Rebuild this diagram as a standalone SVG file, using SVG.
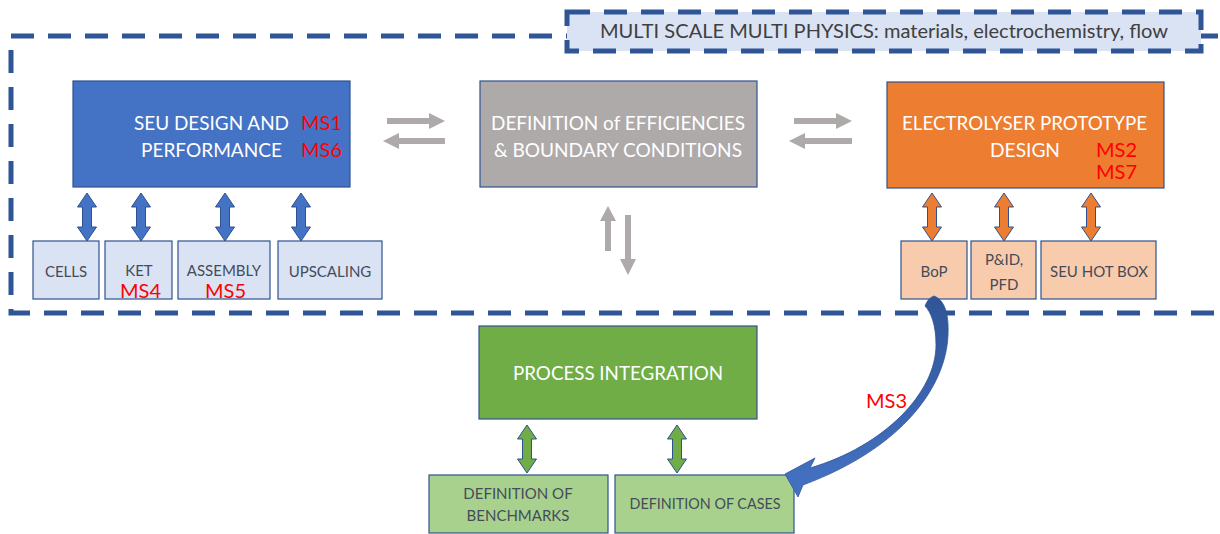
<svg xmlns="http://www.w3.org/2000/svg" width="1220" height="534" viewBox="0 0 1220 534">
<style>
text{font-family:Lato,"Liberation Sans",sans-serif}
.frame{fill:none;stroke:#2f5597;stroke-width:5;stroke-dasharray:23 14}
.lbl{fill:#dae3f3;stroke:#2f5597;stroke-width:5;stroke-dasharray:23 14}
.box{stroke:#2f528f;stroke-width:1.2}
.big{fill:#fff;font-size:19.5px}
.ms{fill:#ff0000;font-size:20px}
.sm{fill:#444c5a;font-size:15px;text-anchor:middle}
.ga{fill:#aeaaaa}
.da{stroke:#2f528f;stroke-width:1}
</style>
<defs>
<path id="dbl" d="M0,0 L9.5,14 L4.5,14 L4.5,34 L9.5,34 L0,48 L-9.5,34 L-4.5,34 L-4.5,14 L-9.5,14 Z"/>
<linearGradient id="arcg" x1="0" y1="0" x2="0" y2="1">
<stop offset="0" stop-color="#2f5597"/>
<stop offset="1" stop-color="#4472c4"/>
</linearGradient>
</defs>

<rect class="frame" x="11" y="36" width="1240" height="277"/>

<g id="label">
<rect class="lbl" x="567" y="12" width="634" height="39"/>
<text x="600" y="38" font-size="18.5" fill="#404040" textLength="568" lengthAdjust="spacingAndGlyphs">MULTI SCALE MULTI PHYSICS: materials, electrochemistry, flow</text>
</g>

<g id="seu">
<rect class="box" x="73" y="81" width="277" height="106" fill="#4472c4"/>
<text class="big" x="134" y="130" textLength="155" lengthAdjust="spacingAndGlyphs">SEU DESIGN AND</text>
<text class="big" x="141" y="157" textLength="141" lengthAdjust="spacingAndGlyphs">PERFORMANCE</text>
<text class="ms" x="301" y="130">MS1</text>
<text class="ms" x="301" y="157">MS6</text>
</g>

<g id="efficiencies">
<rect class="box" x="480" y="81" width="277" height="106" fill="#aeaaaa"/>
<text class="big" x="491" y="130" textLength="254" lengthAdjust="spacingAndGlyphs">DEFINITION of EFFICIENCIES</text>
<text class="big" x="494" y="157" textLength="248" lengthAdjust="spacingAndGlyphs">&amp; BOUNDARY CONDITIONS</text>
</g>

<g id="electrolyser">
<rect class="box" x="887" y="82" width="277" height="106" fill="#ed7d31"/>
<text class="big" x="902" y="130" textLength="245" lengthAdjust="spacingAndGlyphs">ELECTROLYSER PROTOTYPE</text>
<text class="big" x="990" y="157" textLength="70" lengthAdjust="spacingAndGlyphs">DESIGN</text>
<text class="ms" x="1096" y="157">MS2</text>
<text class="ms" x="1096" y="179">MS7</text>
</g>

<g id="cells">
<rect class="box" x="33" y="241" width="66" height="58" fill="#dae3f3"/>
<text class="sm" x="66" y="277">CELLS</text>
</g>
<g id="ket">
<rect class="box" x="105" y="241" width="67" height="58" fill="#dae3f3"/>
<text class="sm" x="139" y="276">KET</text>
<text class="ms" x="120" y="298" font-size="19">MS4</text>
</g>
<g id="assembly">
<rect class="box" x="178" y="241" width="92" height="58" fill="#dae3f3"/>
<text class="sm" x="224" y="276">ASSEMBLY</text>
<text class="ms" x="205" y="298" font-size="19">MS5</text>
</g>
<g id="upscaling">
<rect class="box" x="278" y="241" width="104" height="58" fill="#dae3f3"/>
<text class="sm" x="330" y="277">UPSCALING</text>
</g>

<g id="bop">
<rect class="box" x="901" y="241" width="66" height="58" fill="#f8cbad"/>
<text class="sm" x="934" y="277">BoP</text>
</g>
<g id="pid">
<rect class="box" x="971" y="241" width="65" height="58" fill="#f8cbad"/>
<text class="sm" x="1004" y="265">P&amp;ID,</text>
<text class="sm" x="1004" y="290">PFD</text>
</g>
<g id="hotbox">
<rect class="box" x="1041" y="241" width="115" height="58" fill="#f8cbad"/>
<text class="sm" x="1099" y="277">SEU HOT BOX</text>
</g>

<g id="process">
<rect class="box" x="479" y="326" width="278" height="93" fill="#70ad47"/>
<text class="big" x="513" y="380" font-size="21" textLength="210" lengthAdjust="spacingAndGlyphs">PROCESS INTEGRATION</text>
</g>
<g id="benchmarks">
<rect class="box" x="429" y="475" width="179" height="58" fill="#a9d18e"/>
<text class="sm" x="518" y="499">DEFINITION OF</text>
<text class="sm" x="518" y="521">BENCHMARKS</text>
</g>
<g id="cases">
<rect class="box" x="615" y="475" width="179" height="58" fill="#a9d18e"/>
<text class="sm" x="705" y="509" textLength="151" lengthAdjust="spacingAndGlyphs">DEFINITION OF CASES</text>
</g>

<g id="connectors">
<path class="ga" d="M387,118 L429,118 L429,113 L445,121 L429,129 L429,124 L387,124 Z"/>
<path class="ga" d="M445,138 L399,138 L399,133 L383,141 L399,149 L399,144 L445,144 Z"/>
<path class="ga" d="M794,118 L836,118 L836,113 L852,121 L836,129 L836,124 L794,124 Z"/>
<path class="ga" d="M852,138 L805,138 L805,133 L789,141 L805,149 L805,144 L852,144 Z"/>
<path class="ga" d="M605,251 L605,221 L600,221 L608,206 L616,221 L611,221 L611,251 Z"/>
<path class="ga" d="M625,215 L625,259 L620,259 L628,275 L636,259 L631,259 L631,215 Z"/>

<g fill="#4472c4" class="da">
<use href="#dbl" x="87" y="193"/>
<use href="#dbl" x="141" y="193"/>
<use href="#dbl" x="225" y="193"/>
<use href="#dbl" x="301" y="193"/>
</g>
<g fill="#ed7d31" class="da">
<use href="#dbl" x="932" y="193"/>
<use href="#dbl" x="1004" y="193"/>
<use href="#dbl" x="1091" y="193"/>
</g>
<g fill="#70ad47" class="da">
<use href="#dbl" x="527" y="425"/>
<use href="#dbl" x="677" y="425"/>
</g>

<path fill="url(#arcg)" stroke="#2f5597" stroke-width="0.8" d="M934,296 C945,300 949,315 948,335 C946,385 905,447 803,485 L798,497 L785,474 L815,458 L810,468 C885,446 936,392 936,345 C936,325 931,312 925,306 Q928,298 934,296 Z"/>
<text class="ms" x="866" y="408">MS3</text>
</g>
</svg>
